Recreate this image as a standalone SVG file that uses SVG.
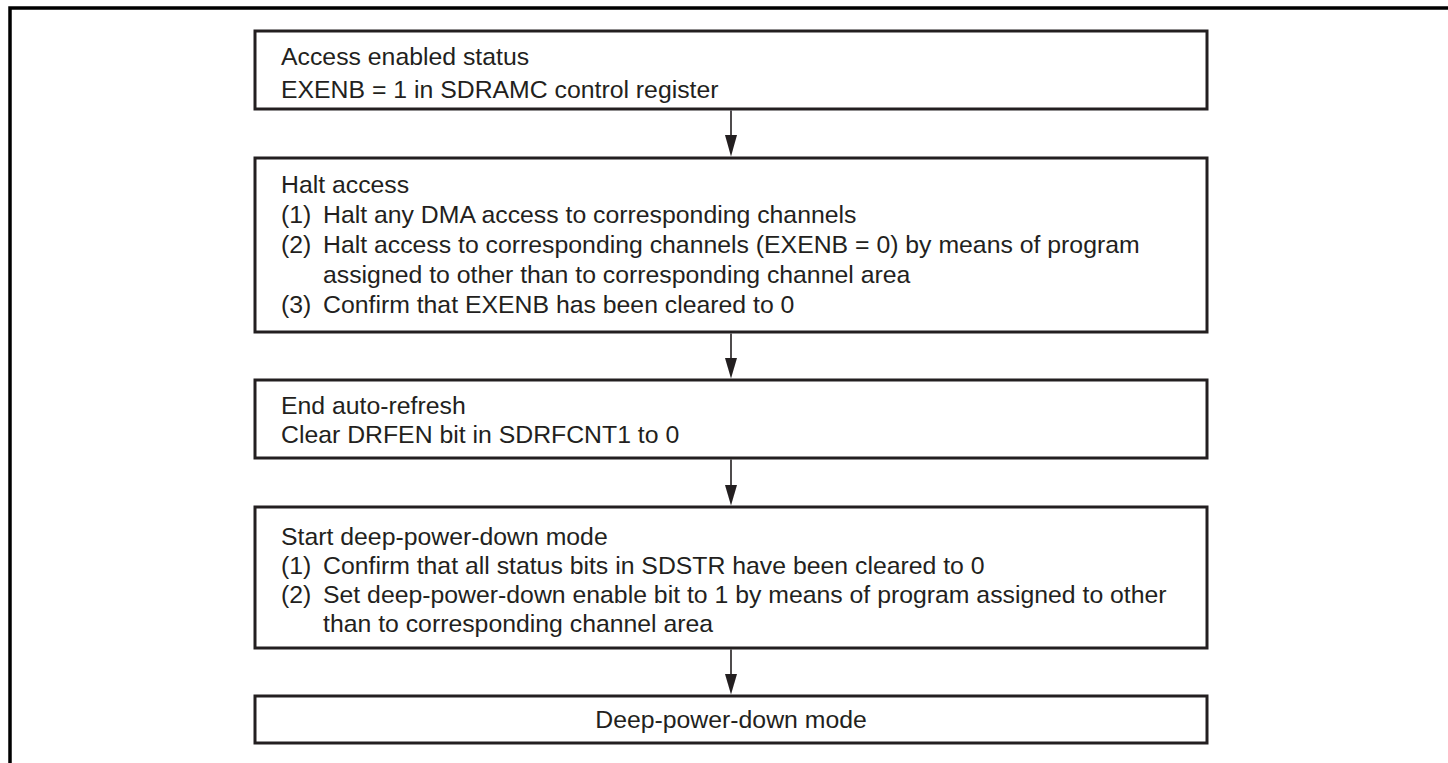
<svg xmlns="http://www.w3.org/2000/svg" width="1448" height="763" viewBox="0 0 1448 763">
<style>
.box{fill:#ffffff;stroke:#231f20;stroke-width:3}
.t{font-family:"Liberation Sans",Arial,sans-serif;font-size:24.8px;fill:#231f20}
.c{text-anchor:middle}
.edge{stroke:#231f20;stroke-width:1.6;fill:none}
.head{fill:#231f20}
</style>
<rect width="1448" height="763" fill="#ffffff"/>
<g id="frame"><path d="M10,763 L10,8 L1448,8" fill="none" stroke="#000000" stroke-width="3.5"/></g>
<g id="connectors">
<line class="edge" x1="731" y1="110.5" x2="731" y2="135"/><path class="head" d="M725,135 L737,135 L731,156.5 Z"/>
<line class="edge" x1="731" y1="333.5" x2="731" y2="358"/><path class="head" d="M725,358 L737,358 L731,378.5 Z"/>
<line class="edge" x1="731" y1="459.5" x2="731" y2="485"/><path class="head" d="M725,485 L737,485 L731,505.5 Z"/>
<line class="edge" x1="731" y1="649.5" x2="731" y2="674"/><path class="head" d="M725,674 L737,674 L731,694.5 Z"/>
</g>
<g id="n1">
<rect class="box" x="255" y="31" width="952" height="78"/>
<text class="t" x="281" y="65">Access enabled status</text>
<text class="t" x="281" y="98">EXENB = 1 in SDRAMC control register</text>
</g>
<g id="n2">
<rect class="box" x="255" y="158" width="952" height="174"/>
<text class="t" x="281" y="193">Halt access</text>
<text class="t" x="281" y="223">(1)</text><text class="t" x="323" y="223">Halt any DMA access to corresponding channels</text>
<text class="t" x="281" y="253">(2)</text><text class="t" x="323" y="253">Halt access to corresponding channels (EXENB = 0) by means of program</text>
<text class="t" x="323" y="283">assigned to other than to corresponding channel area</text>
<text class="t" x="281" y="313">(3)</text><text class="t" x="323" y="313">Confirm that EXENB has been cleared to 0</text>
</g>
<g id="n3">
<rect class="box" x="255" y="380" width="952" height="78"/>
<text class="t" x="281" y="414">End auto-refresh</text>
<text class="t" x="281" y="443">Clear DRFEN bit in SDRFCNT1 to 0</text>
</g>
<g id="n4">
<rect class="box" x="255" y="507" width="952" height="141"/>
<text class="t" x="281" y="545">Start deep-power-down mode</text>
<text class="t" x="281" y="574">(1)</text><text class="t" x="323" y="574">Confirm that all status bits in SDSTR have been cleared to 0</text>
<text class="t" x="281" y="603">(2)</text><text class="t" x="323" y="603">Set deep-power-down enable bit to 1 by means of program assigned to other</text>
<text class="t" x="323" y="632">than to corresponding channel area</text>
</g>
<g id="n5">
<rect class="box" x="255" y="696" width="952" height="47"/>
<text class="t c" x="731" y="728">Deep-power-down mode</text>
</g>
</svg>
